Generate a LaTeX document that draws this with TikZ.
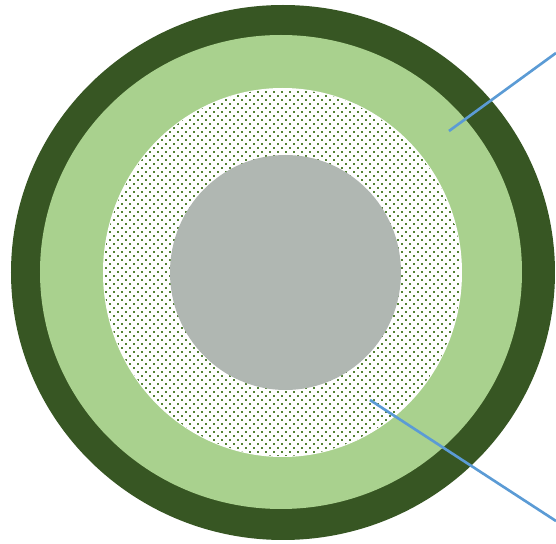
\documentclass[tikz,border=0pt]{standalone}
\usetikzlibrary{shapes.geometric}
\definecolor{ringdark}{HTML}{375623}
\definecolor{ringlight}{HTML}{A9D18E}
\definecolor{dotgreen}{HTML}{548235}
\definecolor{coregrey}{HTML}{B0B7B2}
\definecolor{leaderblue}{HTML}{5B9BD5}
\tikzset{
  disc/.style={
    ellipse,
    draw=none,
    inner sep=0pt
  },
  leader/.style={
    draw=leaderblue,
    line width=1.5pt
  }
}
\begin{document}
\begin{tikzpicture}[x=0.02cm, y=-0.02cm]
  \useasboundingbox (0,0) rectangle (556,544);

  % Rings
  \node (outer) [disc, fill=ringdark, minimum width=544*0.02cm, minimum height=535*0.02cm] at (283,272.5) {};
  \node (middle) [disc, fill=ringlight, minimum width=482*0.02cm, minimum height=474*0.02cm] at (281,272) {};
  \node (dotted) [disc, fill=white, minimum width=359*0.02cm, minimum height=369*0.02cm] at (282.5,272.5) {};

  % Dot fill
  \begin{scope}
    \clip (282.5,272.5) ellipse [x radius=178.5, y radius=183.5];
    \foreach \r in {0,...,93}{
      \pgfmathsetmacro\shift{mod(\r,2)*4}
      \foreach \c in {0,...,46}
        \fill [dotgreen] ({101+\shift+8*\c},{87+4*\r}) rectangle +(2.5,2.5);
    }
  \end{scope}

  \node (core) [disc, fill=coregrey, minimum width=231*0.02cm, minimum height=235*0.02cm] at (285.5,272.5) {};

  % Leader lines
  \coordinate (tipA) at (449,131);
  \coordinate (endA) at (556,53);
  \coordinate (tipB) at (370,400);
  \coordinate (endB) at (556,521);
  \draw [leader] (tipA) -- (endA);
  \draw [leader] (tipB) -- (endB);

\end{tikzpicture}
\end{document}
